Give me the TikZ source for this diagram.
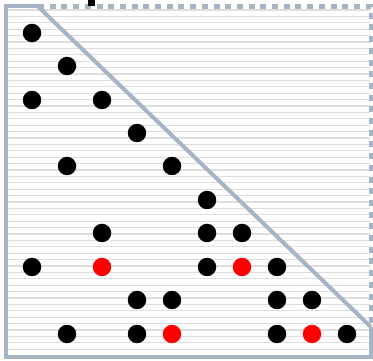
\documentclass[tikz,border=0pt]{standalone}
\definecolor{framec}{RGB}{166,180,196}
\definecolor{stripec}{RGB}{222,222,222}
\definecolor{dotred}{RGB}{255,0,0}
\begin{document}
\begin{tikzpicture}[x=1pt,y=-1pt,
  stripe/.style={draw=stripec,line width=1.3pt},
  frame/.style={draw=framec,line width=4pt},
  dashframe/.style={draw=framec,line width=4.5pt,dash pattern=on 6pt off 5.7pt},
  dot/.style={circle,fill=black,inner sep=0pt,minimum size=18.5pt},
  rdot/.style={circle,fill=dotred,inner sep=0pt,minimum size=18.5pt}]
\useasboundingbox (0,0) rectangle (373,361);
\fill[white] (0,0) rectangle (373,361);
% stripes
\foreach \i in {0,...,54} {
  \draw[stripe] (7,{10+\i*6.4}) -- (370,{10+\i*6.4});
}
% coordinates of frame
\coordinate (tl) at (5.5,6.5);
\coordinate (ts) at (38,6.5);
\coordinate (tr) at (371,6.5);
\coordinate (rs) at (371,327);
\coordinate (br) at (373,357);
\coordinate (bl) at (5.5,357);
\draw[dashframe] (ts) -- (tr) -- (rs);
\draw[frame] (ts) -- (tl) -- (bl) -- (br);
\draw[frame] (rs) -- (371,359);
\draw[frame] (ts) -- (rs);
\fill[black] (88,0) rectangle (95,6) node[coordinate] (mark) {};
% dots
\node[dot] (d1) at (32,33) {};
\node[dot] (d2) at (67,66) {};
\node[dot] (d3) at (32,100) {};
\node[dot] (d4) at (102,100) {};
\node[dot] (d5) at (137,133) {};
\node[dot] (d6) at (67,166) {};
\node[dot] (d7) at (172,166) {};
\node[dot] (d8) at (207,200) {};
\node[dot] (d9) at (102,233) {};
\node[dot] (d10) at (207,233) {};
\node[dot] (d11) at (242,233) {};
\node[dot] (d12) at (32,267) {};
\node[rdot] (d13) at (102,267) {};
\node[dot] (d14) at (207,267) {};
\node[rdot] (d15) at (242,267) {};
\node[dot] (d16) at (277,267) {};
\node[dot] (d17) at (137,300) {};
\node[dot] (d18) at (172,300) {};
\node[dot] (d19) at (277,300) {};
\node[dot] (d20) at (312,300) {};
\node[dot] (d21) at (67,334) {};
\node[dot] (d22) at (137,334) {};
\node[rdot] (d23) at (172,334) {};
\node[dot] (d24) at (277,334) {};
\node[rdot] (d25) at (312,334) {};
\node[dot] (d26) at (347,334) {};
\end{tikzpicture}
\end{document}
